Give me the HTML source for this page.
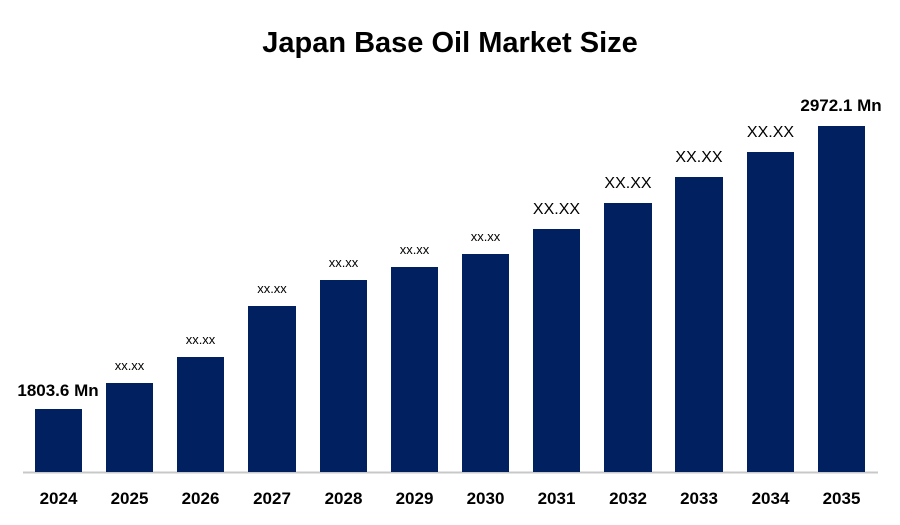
<!DOCTYPE html>
<html><head><style>
body{margin:0;background:#fff;}
svg{display:block;font-family:"Liberation Sans",Arial,sans-serif;}
</style></head><body>
<svg width="900" height="525" viewBox="0 0 900 525">
<text x="450" y="52" text-anchor="middle" font-size="29" font-weight="bold" fill="#000">Japan Base Oil Market Size</text>
<line x1="23" y1="472.5" x2="878" y2="472.5" stroke="#c8c8c8" stroke-width="2"/>
<g fill="#002060">
<rect x="35" y="409" width="47" height="63"/>
<rect x="106" y="383" width="47" height="89"/>
<rect x="177" y="357" width="47" height="115"/>
<rect x="248" y="306" width="48" height="166"/>
<rect x="320" y="280" width="47" height="192"/>
<rect x="391" y="267" width="47" height="205"/>
<rect x="462" y="254" width="47" height="218"/>
<rect x="533" y="229" width="47" height="243"/>
<rect x="604" y="203" width="48" height="269"/>
<rect x="675" y="177" width="48" height="295"/>
<rect x="747" y="152" width="47" height="320"/>
<rect x="818" y="126" width="47" height="346"/>
</g>
<g font-size="17" font-weight="bold" text-anchor="middle" fill="#000">
<text x="58.5" y="504">2024</text><text x="129.5" y="504">2025</text><text x="200.5" y="504">2026</text>
<text x="272" y="504">2027</text><text x="343.5" y="504">2028</text><text x="414.5" y="504">2029</text>
<text x="485.5" y="504">2030</text><text x="556.5" y="504">2031</text><text x="628" y="504">2032</text>
<text x="699" y="504">2033</text><text x="770.5" y="504">2034</text><text x="841.5" y="504">2035</text>
</g>
<g text-anchor="middle" fill="#000">
<text x="58" y="396" font-size="17" font-weight="bold">1803.6 Mn</text>
<text x="129.5" y="370" font-size="13">xx.xx</text>
<text x="200.5" y="344" font-size="13">xx.xx</text>
<text x="272" y="293" font-size="13">xx.xx</text>
<text x="343.5" y="267" font-size="13">xx.xx</text>
<text x="414.5" y="254" font-size="13">xx.xx</text>
<text x="485.5" y="241" font-size="13">xx.xx</text>
<text x="556.5" y="214" font-size="16">XX.XX</text>
<text x="628" y="188" font-size="16">XX.XX</text>
<text x="699" y="162" font-size="16">XX.XX</text>
<text x="770.5" y="137" font-size="16">XX.XX</text>
<text x="841" y="111" font-size="17" font-weight="bold">2972.1 Mn</text>
</g>
</svg>
</body></html>
